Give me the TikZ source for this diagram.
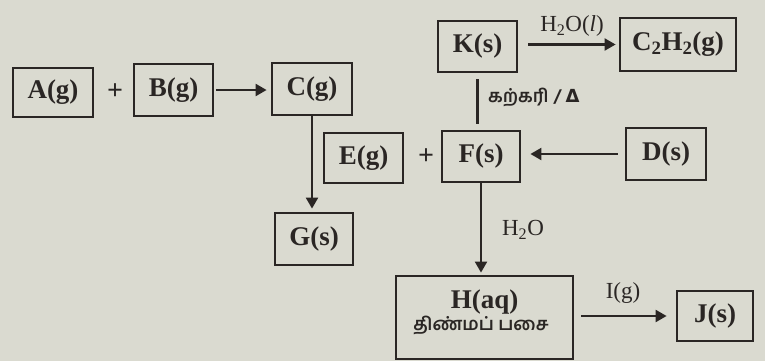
\documentclass[tikz,border=0pt]{standalone}
\usepackage{fontspec}
\setmainfont{Liberation Serif}
\newfontfamily\tamilfont[Script=Tamil]{Hind Madurai}
\usetikzlibrary{arrows.meta}
\definecolor{paper}{RGB}{218,218,208}
\definecolor{ink}{RGB}{42,38,36}
\begin{document}
\begin{tikzpicture}[x=1pt,y=-1pt,
  box/.style={draw=ink, line width=2.8pt, inner sep=0pt, text=ink,
    font=\bfseries\fontsize{27}{32}\selectfont},
  plus/.style={text=ink, font=\bfseries\fontsize{28}{32}\selectfont},
  conn/.style={draw=ink, line width=2.2pt, -{Triangle[length=11pt,width=12pt]}},
  plain/.style={draw=ink, line width=2.4pt},
  lbl/.style={text=ink, inner sep=0pt, font=\fontsize{23}{26}\selectfont},
  tlbl/.style={text=ink, inner sep=0pt, font=\tamilfont\bfseries\fontsize{18}{20}\selectfont}]
\fill[paper] (0,0) rectangle (765,361);
\useasboundingbox (0,0) rectangle (765,361);
% boxes
\node[box, minimum width=80pt, minimum height=49pt] (A) at (53,92.5) {A(g)};
\node[plus] (p1) at (115,92) {+};
\node[box, minimum width=79pt, minimum height=52pt] (B) at (173.5,90) {B(g)};
\node[box, minimum width=80pt, minimum height=52pt] (C) at (312,89) {C(g)};
\node[box, minimum width=79pt, minimum height=51pt] (K) at (477.5,46.5) {K(s)};
\node[box, minimum width=116pt, minimum height=53pt] (CH) at (678,44.5) {C\textsubscript{2}H\textsubscript{2}(g)};
\node[box, minimum width=79pt, minimum height=50pt] (E) at (363.5,158) {E(g)};
\node[plus] (p2) at (426,157) {+};
\node[box, minimum width=78pt, minimum height=51pt] (F) at (481,156.5) {F(s)};
\node[box, minimum width=80pt, minimum height=52pt] (D) at (666,154) {D(s)};
\node[box, minimum width=78pt, minimum height=52pt] (G) at (314,239) {G(s)};
\node[box, minimum width=177pt, minimum height=83pt] (H) at (484.5,317.5) {};
\node[text=ink, inner sep=0pt, font=\bfseries\fontsize{27}{32}\selectfont] (Ht) at (484.5,302) {H(aq)};
\node[tlbl] (Hb) at (481,325) {திண்மப் பசை};
\node[box, minimum width=76pt, minimum height=50pt] (J) at (715,316) {J(s)};
% connectors
\draw[conn, shorten <=2pt, shorten >=4pt] (B.east) -- (B.east -| C.west);
\draw[conn, shorten <=10pt, shorten >=3pt] (K.east |- CH.west) -- (CH.west);
\node[lbl] (l1) at (572,26) {H\textsubscript{2}O(\textit{l})};
\draw[plain, shorten <=6pt, shorten >=6pt] (K.south) -- (K.south |- F.north);
\node[tlbl, anchor=west] (l2) at (488,97) {கற்கரி / {\fontspec{DejaVu Sans}Δ}};
\draw[conn, shorten >=3pt] (C.south) -- (C.south |- G.north);
\draw[conn, shorten <=7pt, shorten >=9pt] (D.west) -- (D.west -| F.east);
\draw[conn, shorten >=2pt] (F.south) -- (F.south |- H.north);
\node[lbl] (l3) at (523,230) {H\textsubscript{2}O};
\draw[conn, shorten <=7pt, shorten >=9pt] (H.east |- J.west) -- (J.west);
\node[lbl] (l4) at (623,293) {I(g)};
\end{tikzpicture}
\end{document}
